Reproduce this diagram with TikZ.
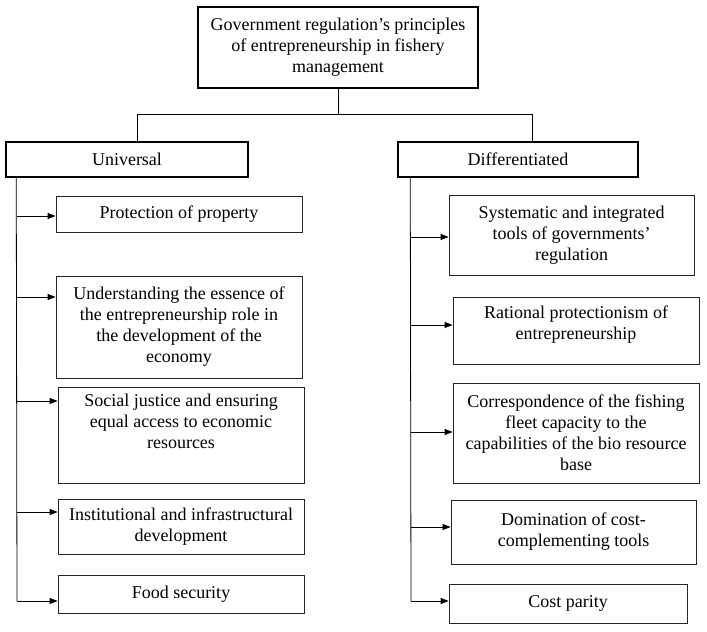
\documentclass[tikz,border=0pt]{standalone}
\usepackage{fontspec}
\setmainfont{Liberation Serif}
\usepackage{tikz}
\usetikzlibrary{arrows.meta,positioning}

\begin{document}
\begin{tikzpicture}[
  x=1pt, y=-1pt,
  every node/.style = {shape=rectangle, draw, align=center, inner sep=2pt,
      font=\fontsize{18}{21}\selectfont},
  head/.style  = {line width=2.4pt},
  group/.style = {line width=1.5pt},
  item/.style  = {line width=0.8pt, draw=black!85},
  link/.style  = {line width=0.8pt},
  arr/.style   = {link, -{Triangle[length=8pt,width=6pt]}}
]
  \useasboundingbox (0,0) rectangle (707,632);

  % Nodos
  \node[head, minimum width=280pt, minimum height=81pt] (top) at (338,47.5)
    {Government regulation's principles\\ of entrepreneurship in fishery\\ management};

  \node[group, minimum width=242pt, minimum height=35pt] (uni) at (127,159.5) {Universal};
  \node[group, minimum width=240pt, minimum height=35pt] (dif) at (518,159.5) {Differentiated};

  \node[item, minimum width=246pt, minimum height=36pt] (u1) at (179,214) {Protection of property};
  \node[item, minimum width=246pt, minimum height=102pt] (u2) at (179,327)
    {Understanding the essence of\\ the entrepreneurship role in\\ the development of the\\ economy};
  \node[item, minimum width=246pt, minimum height=96pt, text depth=27pt] (u3) at (181,435)
    {Social justice and ensuring\\ equal access to economic\\ resources};
  \node[item, minimum width=246pt, minimum height=55pt] (u4) at (181,526.5)
    {Institutional and infrastructural\\ development};
  \node[item, minimum width=246pt, minimum height=38pt] (u5) at (181,594) {Food security};

  \node[item, minimum width=245pt, minimum height=80pt] (d1) at (571.5,235)
    {Systematic and integrated\\ tools of governments'\\ regulation};
  \node[item, minimum width=246pt, minimum height=67pt, text depth=16pt] (d2) at (576,330.5)
    {Rational protectionism of\\ entrepreneurship};
  \node[item, minimum width=246pt, minimum height=100pt] (d3) at (576,433)
    {Correspondence of the fishing\\ fleet capacity to the\\ capabilities of the bio resource\\ base};
  \node[item, minimum width=245pt, minimum height=64pt] (d4) at (573.5,532)
    {Domination of cost-\\ complementing tools};
  \node[item, minimum width=238pt, minimum height=39pt] (d5) at (568,603.5) {Cost parity};

  % Ramas
  \coordinate (split) at (338,114);
  \draw[link] (top.south) -- (split);
  \draw[link] (split) -| ([xshift=10pt]uni.north);
  \draw[link] (split) -| ([xshift=14pt]dif.north);

  \coordinate (ul1) at (17,216);
  \coordinate (ul2) at (17,297);
  \coordinate (ul3) at (17,401);
  \coordinate (ul4) at (17,512);
  \coordinate (ul5) at (17,601);
  \draw[link] ([xshift=11pt]uni.south west) -- (ul5);
  \foreach \i in {1,...,5}
    \draw[arr] (ul\i) -- (ul\i -| u\i.west);

  \coordinate (dl1) at (411,237);
  \coordinate (dl2) at (411,325);
  \coordinate (dl3) at (411,432);
  \coordinate (dl4) at (411,527);
  \coordinate (dl5) at (411,601);
  \draw[link] ([xshift=13pt]dif.south west) -- (dl5);
  \foreach \i in {1,...,5}
    \draw[arr] (dl\i) -- (dl\i -| d\i.west);

\end{tikzpicture}
\end{document}
